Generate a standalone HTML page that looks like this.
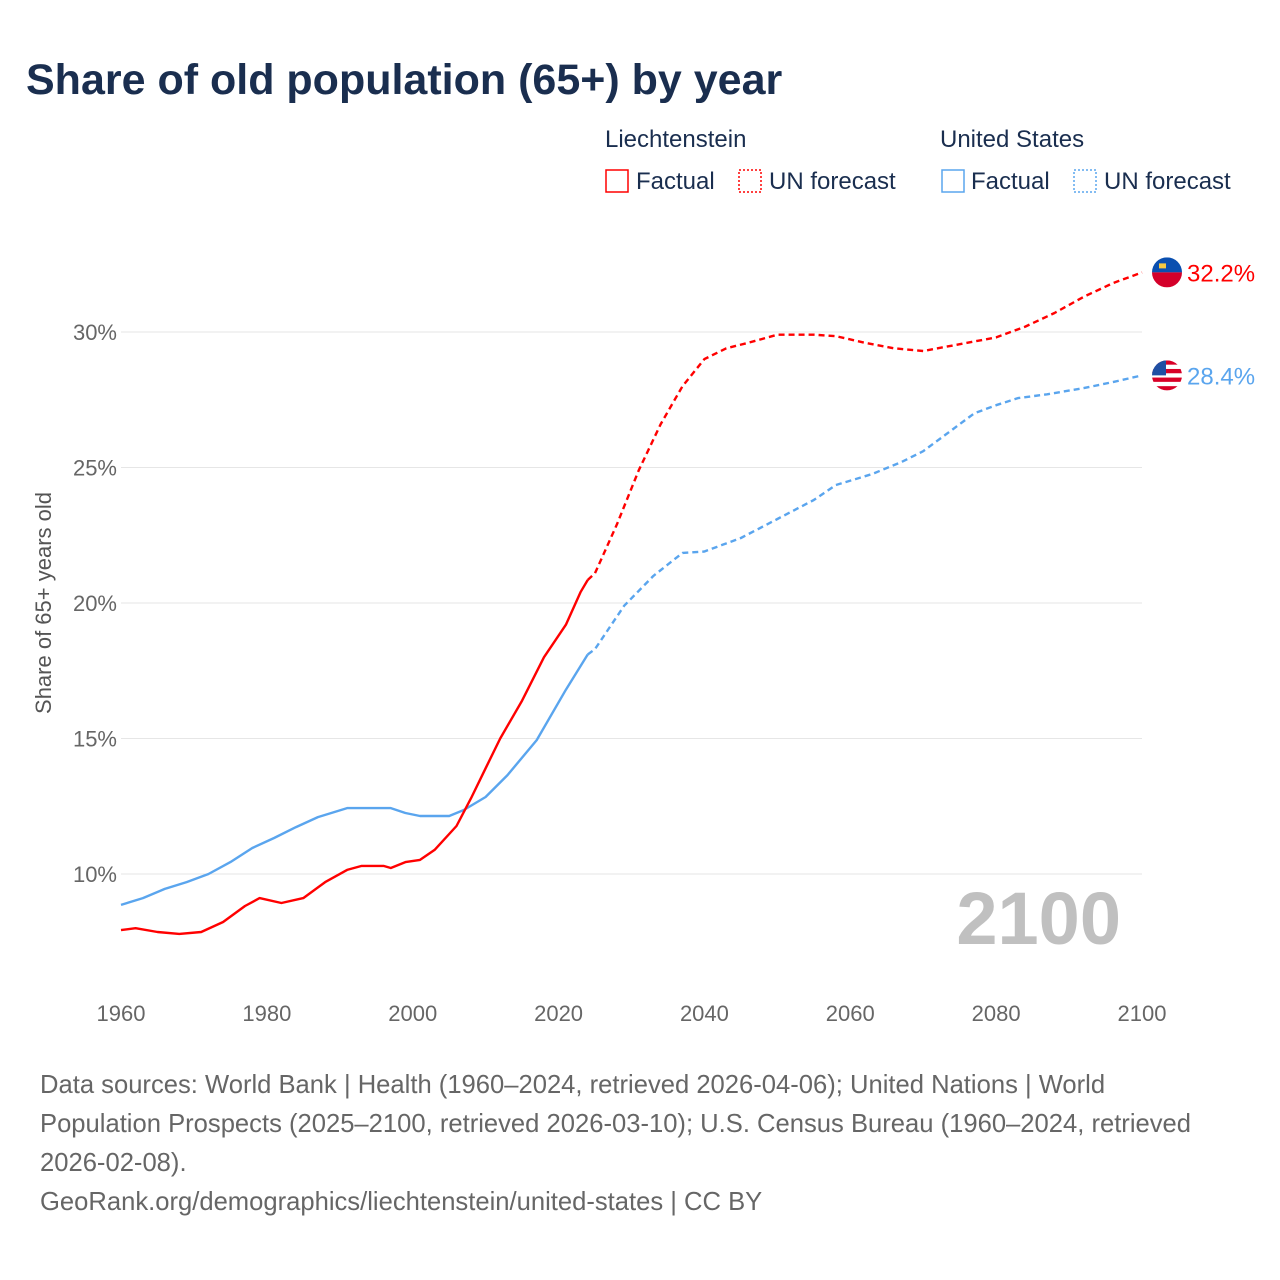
<!DOCTYPE html>
<html><head><meta charset="utf-8">
<style>
body{margin:0;background:#fff;font-family:"Liberation Sans",sans-serif;}
#wrap{position:relative;width:1280px;height:1280px;overflow:hidden;}
</style></head>
<body>
<div id="wrap">
<svg id="chart" width="1280" height="1280" style="position:absolute;left:0;top:0">
<text x="26" y="94" font-size="43" font-weight="bold" fill="#1a2e4f">Share of old population (65+) by year</text>
<g font-size="24" fill="#1a2e4f">
<text x="605" y="147">Liechtenstein</text>
<text x="940" y="147">United States</text>
<g><rect x="606" y="170" width="22" height="22" fill="none" stroke="#ff0000" stroke-width="1.5"/><text x="636" y="189">Factual</text></g>
<g><rect x="739" y="170" width="22" height="22" fill="none" stroke="#ff0000" stroke-width="1.5" stroke-dasharray="2 2"/><text x="769" y="189">UN forecast</text></g>
<g><rect x="942" y="170" width="22" height="22" fill="none" stroke="#5aa5ee" stroke-width="1.5"/><text x="971" y="189">Factual</text></g>
<g><rect x="1074" y="170" width="22" height="22" fill="none" stroke="#5aa5ee" stroke-width="1.5" stroke-dasharray="2 2"/><text x="1104" y="189">UN forecast</text></g>
</g>
<g id="grid"></g>
<g id="axes"></g>
<text x="1121" y="944" font-size="74" font-weight="bold" fill="#c0c0c0" text-anchor="end">2100</text>
<g id="lines"></g>
<g id="ends"></g>
<text transform="translate(51,603) rotate(-90)" font-size="22" fill="#555" text-anchor="middle">Share of 65+ years old</text>
</svg>
<div style="position:absolute;left:40px;top:1066px;width:1220px;white-space:nowrap;font-size:25.6px;line-height:39px;color:#666;">Data sources: World Bank | Health (1960–2024, retrieved 2026-04-06); United Nations | World<br>Population Prospects (2025–2100, retrieved 2026-03-10); U.S. Census Bureau (1960–2024, retrieved<br>2026-02-08).<br>GeoRank.org/demographics/liechtenstein/united-states | CC BY</div>
</div>
<script>
const yTicks=[10,15,20,25,30];
const xTicks=[1960,1980,2000,2020,2040,2060,2080,2100];
const liFactYears=[1960,1962,1965,1968,1971,1974,1977,1979,1982,1985,1988,1991,1993,1996,1997,1999,2001,2003,2006,2008,2010,2012,2015,2018,2021,2023,2024];
const liFactVals=[7.93,8.0,7.86,7.79,7.86,8.23,8.82,9.11,8.93,9.11,9.7,10.15,10.3,10.3,10.22,10.44,10.52,10.89,11.77,12.8,13.9,15.0,16.4,18.0,19.2,20.4,20.85];
const liFcYears=[2024,2025,2028,2031,2034,2037,2040,2043,2046,2050,2055,2058,2062,2066,2070,2075,2080,2084,2088,2092,2096,2100];
const liFcVals=[20.85,21.1,22.9,24.9,26.6,28.0,29.0,29.4,29.6,29.9,29.9,29.85,29.6,29.4,29.3,29.55,29.8,30.2,30.7,31.3,31.8,32.2];
const usFactYears=[1960,1963,1966,1969,1972,1975,1978,1981,1984,1987,1991,1997,1999,2001,2005,2007,2010,2013,2017,2021,2024];
const usFactVals=[8.86,9.11,9.45,9.7,10.0,10.44,10.96,11.33,11.73,12.1,12.43,12.43,12.25,12.14,12.14,12.36,12.84,13.65,14.94,16.8,18.1];
const usFcYears=[2024,2025,2029,2033,2037,2040,2045,2050,2055,2058,2063,2067,2070,2074,2077,2080,2083,2087,2092,2096,2100];
const usFcVals=[18.1,18.3,19.9,21.0,21.85,21.9,22.4,23.1,23.8,24.35,24.76,25.2,25.6,26.4,27.0,27.3,27.56,27.7,27.93,28.15,28.4];
const endLabels=["32.2%","28.4%"];

const NS="http://www.w3.org/2000/svg";
const X=yr=>121+(yr-1960)*(1142-121)/140;
const Y=v=>874-(v-10)*(874-332)/20;
function mk(tag,attrs,parent){const e=document.createElementNS(NS,tag);for(const k in attrs)e.setAttribute(k,attrs[k]);parent.appendChild(e);return e;}
const grid=document.getElementById('grid'),axes=document.getElementById('axes'),lines=document.getElementById('lines'),ends=document.getElementById('ends');
yTicks.forEach(t=>{
 const l=mk('line',{x1:121,x2:1142,y1:Y(t),y2:Y(t),stroke:'#e6e6e6','stroke-width':1},grid);
 
 
 const tx=mk('text',{x:117,y:Y(t)+8,'font-size':22,fill:'#666','text-anchor':'end'},axes);
 tx.textContent=t+'%';
 
 
});
xTicks.forEach(t=>{
 const tx=mk('text',{x:X(t),y:1021,'font-size':22,fill:'#666','text-anchor':'middle'},axes);
 tx.textContent=t;
 
 
});
function line(xs,vs,color,dash,name){
 const d=xs.map((x,i)=>(i?'L':'M')+X(x).toFixed(1)+','+Y(vs[i]).toFixed(1)).join(' ');
 const p=mk('path',{d:d,fill:'none',stroke:color,'stroke-width':2.4,'stroke-linejoin':'round'},lines);
 if(dash)p.setAttribute('stroke-dasharray','6 4');
 
 
}
line(usFactYears,usFactVals,'#5aa5ee',false,'us-factual-line');
line(usFcYears,usFcVals,'#5aa5ee',true,'us-forecast-line');
line(liFactYears,liFactVals,'#ff0000',false,'li-factual-line');
line(liFcYears,liFcVals,'#ff0000',true,'li-forecast-line');
const liY=Y(liFcVals[liFcVals.length-1]),usY=Y(usFcVals[usFcVals.length-1]);
const fx=1167;
let g=mk('g',{},ends);


let cp1=mk('clipPath',{id:'c1'},g);mk('circle',{cx:fx,cy:liY,r:15},cp1);
mk('rect',{x:fx-15,y:liY-15,width:30,height:15,fill:'#0a4fb0','clip-path':'url(#c1)'},g);
mk('rect',{x:fx-15,y:liY,width:30,height:15,fill:'#d4002a','clip-path':'url(#c1)'},g);
mk('rect',{x:fx-8,y:liY-9,width:7,height:5,fill:'#f5c842'},g);
let t1=mk('text',{x:1187,y:liY+9,'font-size':24,fill:'#ff0000'},ends);t1.textContent=endLabels[0];


g=mk('g',{},ends);


const cp=mk('clipPath',{id:'c2'},g);mk('circle',{cx:fx,cy:usY,r:15},cp);
mk('rect',{x:fx-15,y:usY-15,width:30,height:30,fill:'#fff','clip-path':'url(#c2)'},g);
for(let i=0;i<7;i+=2)mk('rect',{x:fx-15,y:usY-15+i*4.3,width:30,height:4.3,fill:'#d80027','clip-path':'url(#c2)'},g);
mk('rect',{x:fx-15,y:usY-15,width:14,height:15,fill:'#1f4fa3','clip-path':'url(#c2)'},g);
let t2=mk('text',{x:1187,y:usY+9,'font-size':24,fill:'#5aa5ee'},ends);t2.textContent=endLabels[1];


</script>
</body></html>
